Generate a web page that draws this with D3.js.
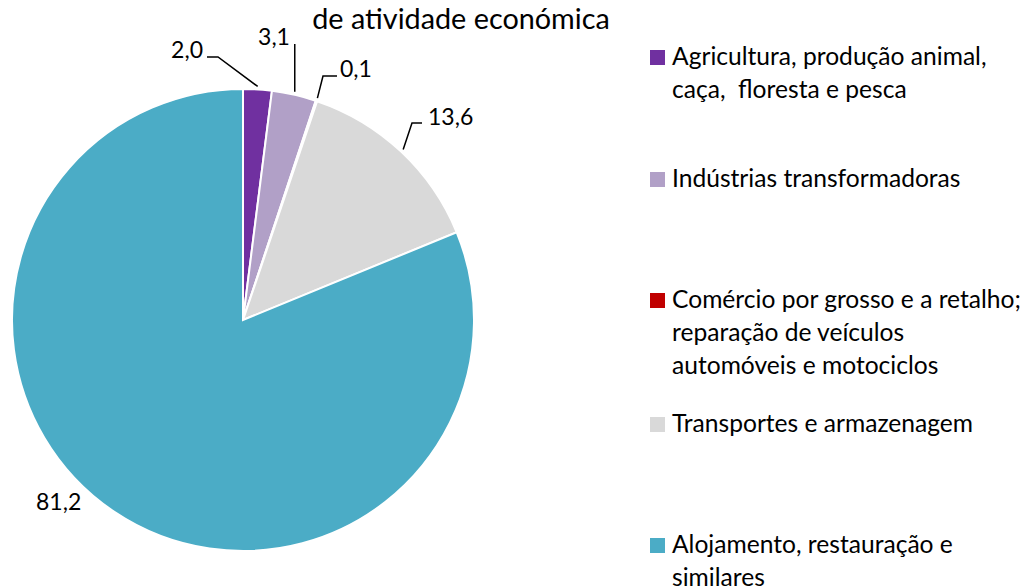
<!DOCTYPE html>
<html lang="pt">
<head>
<meta charset="utf-8">
<title>Pie chart - atividade económica</title>
<script src="https://d3js.org/d3.v7.min.js"></script>
<style>
  body { margin: 0; background: #fff; }
  svg text { font-family: Lato, "Open Sans", sans-serif; fill: #000; white-space: pre; }
</style>
</head>
<body>
<svg width="1027" height="588"></svg>
<script>
// data
const categories = [
  "Agricultura, produção animal, caça,  floresta e pesca",
  "Indústrias transformadoras",
  "Comércio por grosso e a retalho; reparação de veículos automóveis e motociclos",
  "Transportes e armazenagem",
  "Alojamento, restauração e similares"
];
const legendLines = [
  ["Agricultura, produção animal,", "caça,  floresta e pesca"],
  ["Indústrias transformadoras"],
  ["Comércio por grosso e a retalho;", "reparação de veículos", "automóveis e motociclos"],
  ["Transportes e armazenagem"],
  ["Alojamento, restauração e", "similares"]
];
const values = [2.0, 3.1, 0.1, 13.6, 81.2];
const colors = ["#7030A0", "#B1A0C7", "#C00000", "#D9D9D9", "#4BACC6"];
const titleText = "de atividade económica";

const svg = d3.select("svg");
const cx = 243, cy = 320, R = 231;
const fs = 23, legFs = 24.6, titleFs = 28.8;

const color = d3.scaleOrdinal().domain(categories).range(colors);
const data = categories.map((c, i) => ({ cat: c, value: values[i], lines: legendLines[i] }));

const pie = d3.pie().value(d => d.value).sort(null);
const arcs = pie(data);
const arc = d3.arc().innerRadius(0).outerRadius(R);
const edge = d3.arc().innerRadius(R + 3).outerRadius(R + 3);

const g = svg.append("g").attr("transform", `translate(${cx},${cy})`);
g.selectAll("path")
  .data(arcs)
  .enter()
  .append("path")
  .attr("d", arc)
  .attr("fill", d => color(d.data.cat))
  .attr("stroke", "#fff")
  .attr("stroke-width", 2);

// label placement (layout only), in page coords: text anchor + optional elbow of the leader
const labelLayout = [
  { x: 203, y: 58, anchor: "end",    leader: [[218, 57], [207, 57]] },
  { x: 274, y: 45, anchor: "middle", leader: [[295, 44]] },
  { x: 340, y: 77, anchor: "start",  leader: [[323, 76], [337, 76]] },
  { x: 428, y: 125, anchor: "start", leader: [[412, 123], [422, 123]] },
  { x: 36,  y: 510, anchor: "start", leader: null }
];

const fmt = v => d3.format(".1f")(v).replace(".", ",");

arcs.forEach((a, i) => {
  const L = labelLayout[i];
  if (L.leader) {
    const p = edge.centroid(a);
    const start = [p[0] + cx, p[1] + cy];
    // single point = straight vertical leader from the arc
    const pts = L.leader.length === 1 ? [start, [start[0], L.leader[0][1]]] : [start, ...L.leader];
    svg.append("path")
      .attr("d", d3.line()(pts))
      .attr("fill", "none")
      .attr("stroke", "#000")
      .attr("stroke-width", 1.5);
  }
  svg.append("text")
    .attr("x", L.x).attr("y", L.y)
    .attr("text-anchor", L.anchor)
    .style("font-size", fs + "px")
    .text(fmt(a.data.value));
});

// title (its first line is outside the frame)
svg.append("text")
  .attr("x", 461).attr("y", 29)
  .attr("text-anchor", "middle")
  .style("font-size", titleFs + "px")
  .text(titleText);

// legend
const legendY = [65, 187, 308, 432, 553];
const lineH = 33;
const leg = svg.selectAll("g.leg")
  .data(data)
  .enter()
  .append("g")
  .attr("class", "leg")
  .attr("transform", (d, i) => `translate(650,${legendY[i]})`);
leg.append("rect")
  .attr("x", 0).attr("y", -15)
  .attr("width", 15).attr("height", 15)
  .attr("fill", d => color(d.cat));
leg.append("text")
  .style("font-size", legFs + "px")
  .selectAll("tspan")
  .data(d => d.lines)
  .enter()
  .append("tspan")
  .attr("x", 22)
  .attr("y", (d, j) => j * lineH)
  .text(d => d);
</script>
</body>
</html>
